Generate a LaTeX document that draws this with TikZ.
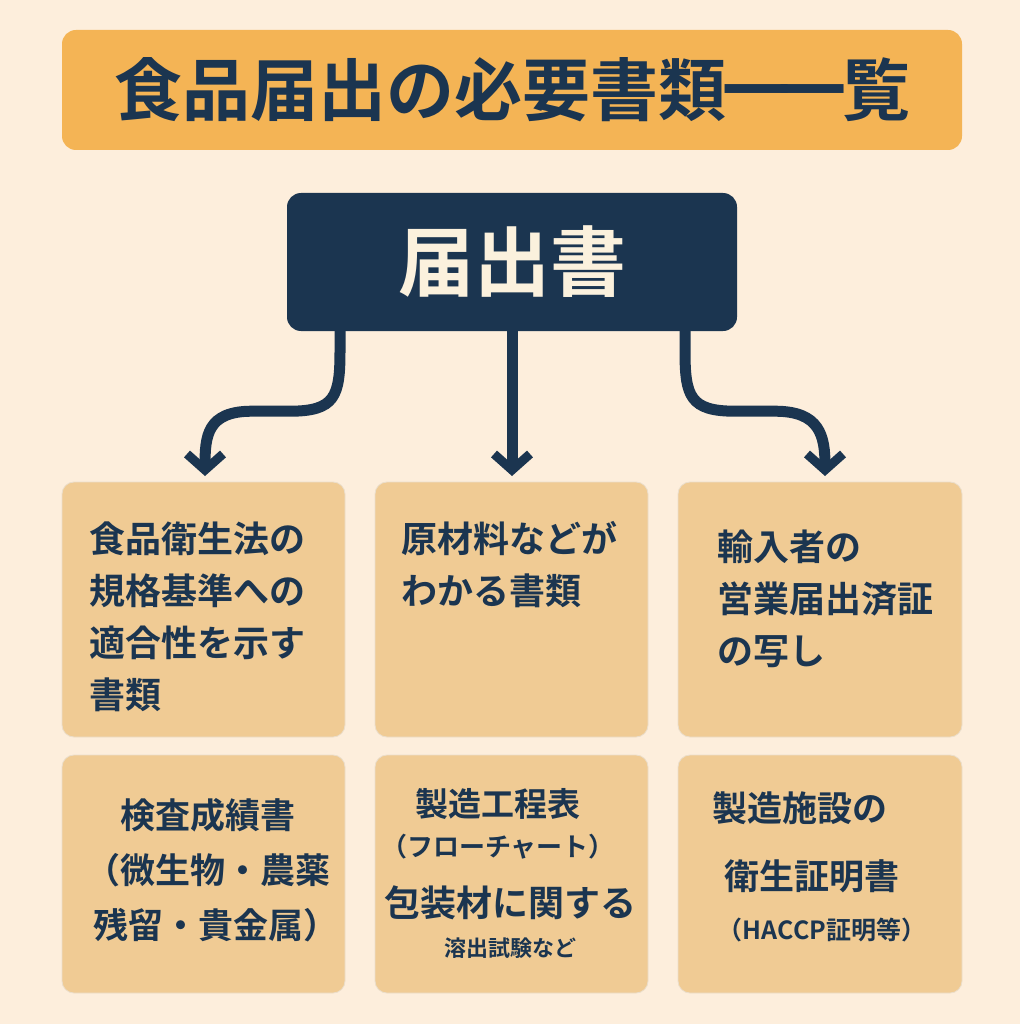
\documentclass[tikz,border=0pt]{standalone}
\usepackage{fontspec}
\setmainfont{Noto Sans CJK JP}[BoldFont={* Bold}]
\usetikzlibrary{arrows.meta}
\definecolor{bg}{HTML}{FDEEDC}
\definecolor{navy}{HTML}{1B3550}
\definecolor{orange}{HTML}{F4B455}
\definecolor{card}{HTML}{F0CB94}
\definecolor{cream}{HTML}{FBF1DD}
\tikzset{
 card/.style={fill=card,draw=card!85!black!40,line width=0.8pt,rounded corners=12pt},
 body/.style={text=navy,font=\bfseries\fontsize{36}{52}\selectfont,align=left,anchor=north west},
 bodyc/.style={text=navy,font=\bfseries\fontsize{35}{55}\selectfont,align=center},
 conn/.style={navy,line width=11pt,-{Straight Barb[length=16pt,width=36pt,line width=9pt]}}
}
\begin{document}
\begin{tikzpicture}[x=1pt,y=-1pt]
\fill[bg] (0,0) rectangle (1020,1024);
\useasboundingbox (0,0) rectangle (1020,1024);
\node[fill=orange,rounded corners=14pt,minimum width=900pt,minimum height=120pt,text=navy,font=\bfseries\fontsize{68}{70}\selectfont] (title) at (512,90) {食品届出の必要書類\kern-4pt一\kern-12pt一\kern-4pt覧};
\node[fill=navy,rounded corners=14pt,minimum width=450pt,minimum height=138pt,text=cream,font=\bfseries\fontsize{76}{78}\selectfont] (main) at (512,262) {届出書};
\node[card,minimum width=283pt,minimum height=255pt] (a) at (203.5,609.5) {};
\node[card,minimum width=273pt,minimum height=255pt] (b) at (511.5,609.5) {};
\node[card,minimum width=284pt,minimum height=255pt] (c) at (820,609.5) {};
\node[card,minimum width=283pt,minimum height=238pt] (d) at (203.5,874) {};
\node[card,minimum width=273pt,minimum height=238pt] (e) at (511.5,874) {};
\node[card,minimum width=284pt,minimum height=238pt] (f) at (820,874) {};
\coordinate (ea) at (205,476); \coordinate (eb) at (512,476); \coordinate (ec) at (825,476);
\draw[conn] (main.south) ++(-172,0) -- ++(0,20) .. controls +(0,45) and +(45,0) .. ++(-50,60) -- ++(-38,0) .. controls +(-45,0) and +(0,-40) .. (ea);
\draw[conn] (main.south) -- (eb);
\draw[conn] (main.south) ++(173,0) -- ++(0,20) .. controls +(0,45) and +(-45,0) .. ++(50,60) -- ++(40,0) .. controls +(45,0) and +(0,-40) .. (ec);
\node[body] (ta) at (86,518) {食品衛生法の\\規格基準への\\適合性を示す\\書類};
\node[body] (tb) at (398,518) {原材料などが\\わかる書類};
\node[body] (tc) at (714,526) {輸入者の\\営業届出済証\\の写し};
\node[bodyc] (td) at (208,870) {検査成績書\\（微生物・農薬\\\ \ 残留・貴金属）};
\node[bodyc,font=\bfseries\fontsize{33}{40}\selectfont] (te1) at (498,824) {製造工程表\\{\fontsize{26}{28}\selectfont（フローチャート）}};
\node[bodyc,font=\bfseries\fontsize{36}{40}\selectfont] (te2) at (510,922) {包装材に関する\\{\fontsize{22}{26}\selectfont 溶出試験など}};
\node[bodyc] (tf1) at (800,808) {製造施設の};
\node[bodyc] (tf2) at (812,876) {衛生証明書};
\node[bodyc,font=\bfseries\fontsize{25}{26}\selectfont] (tf3) at (822,930) {（HACCP証明等）};
\end{tikzpicture}
\end{document}
